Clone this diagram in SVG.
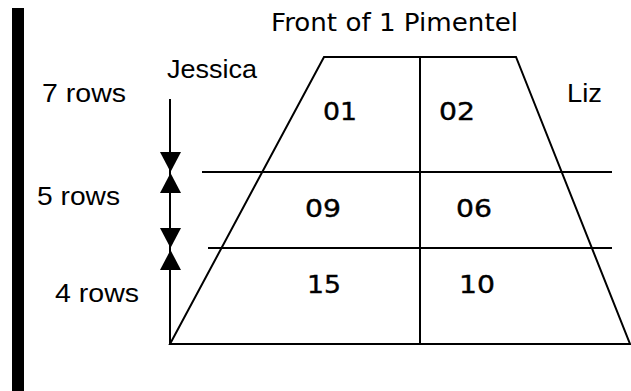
<svg xmlns="http://www.w3.org/2000/svg" width="631" height="391" viewBox="0 0 631 391">
<style>
.ln{stroke:#000;stroke-width:2;fill:none}
.lbl{font-family:"Liberation Sans",Arial,sans-serif;font-size:25px;fill:#000}
.ttl{font-family:"DejaVu Sans","Open Sans",sans-serif;font-size:24px;fill:#000}
.num{font-family:"DejaVu Sans",sans-serif;font-size:25px;fill:#000;stroke:#000;stroke-width:0.4}
.ah{fill:#000}
</style>
<rect fill="#fff" width="631" height="391"/>
<rect id="bar" x="12" y="8" width="12" height="383" fill="#000"/>
<g id="room">
<polygon class="ln" points="324,57 516,57 630,344 170,344"/>
<line class="ln" x1="420" y1="57" x2="420" y2="344"/>
<line class="ln" x1="202" y1="172" x2="612" y2="172"/>
<line class="ln" x1="208" y1="248" x2="612" y2="248"/>
</g>
<g id="connectors">
<line class="ln" x1="170" y1="99" x2="170" y2="344"/>
<polygon class="ah" points="160,152 181,152 170.5,172"/>
<polygon class="ah" points="160,193 181,193 170.5,173"/>
<polygon class="ah" points="160,228 181,228 170.5,248"/>
<polygon class="ah" points="160,270 181,270 170.5,250"/>
</g>
<g id="title"><text class="ttl" x="271" y="31" textLength="247" lengthAdjust="spacingAndGlyphs">Front of 1 Pimentel</text></g>
<g id="jessica"><text class="lbl" x="167" y="78" textLength="90" lengthAdjust="spacingAndGlyphs">Jessica</text></g>
<g id="liz"><text class="lbl" x="567" y="102" textLength="35" lengthAdjust="spacingAndGlyphs">Liz</text></g>
<g id="rows7"><text class="lbl" x="42" y="102" textLength="84" lengthAdjust="spacingAndGlyphs">7 rows</text></g>
<g id="rows5"><text class="lbl" x="37" y="205" textLength="83" lengthAdjust="spacingAndGlyphs">5 rows</text></g>
<g id="rows4"><text class="lbl" x="55" y="302" textLength="84" lengthAdjust="spacingAndGlyphs">4 rows</text></g>
<g id="s01"><text class="num" x="323" y="120" textLength="34" lengthAdjust="spacingAndGlyphs">01</text></g>
<g id="s02"><text class="num" x="439" y="120" textLength="36" lengthAdjust="spacingAndGlyphs">02</text></g>
<g id="s09"><text class="num" x="305" y="217" textLength="36" lengthAdjust="spacingAndGlyphs">09</text></g>
<g id="s06"><text class="num" x="456" y="217" textLength="36" lengthAdjust="spacingAndGlyphs">06</text></g>
<g id="s15"><text class="num" x="307" y="293" textLength="34" lengthAdjust="spacingAndGlyphs">15</text></g>
<g id="s10"><text class="num" x="459" y="293" textLength="36" lengthAdjust="spacingAndGlyphs">10</text></g>
</svg>
